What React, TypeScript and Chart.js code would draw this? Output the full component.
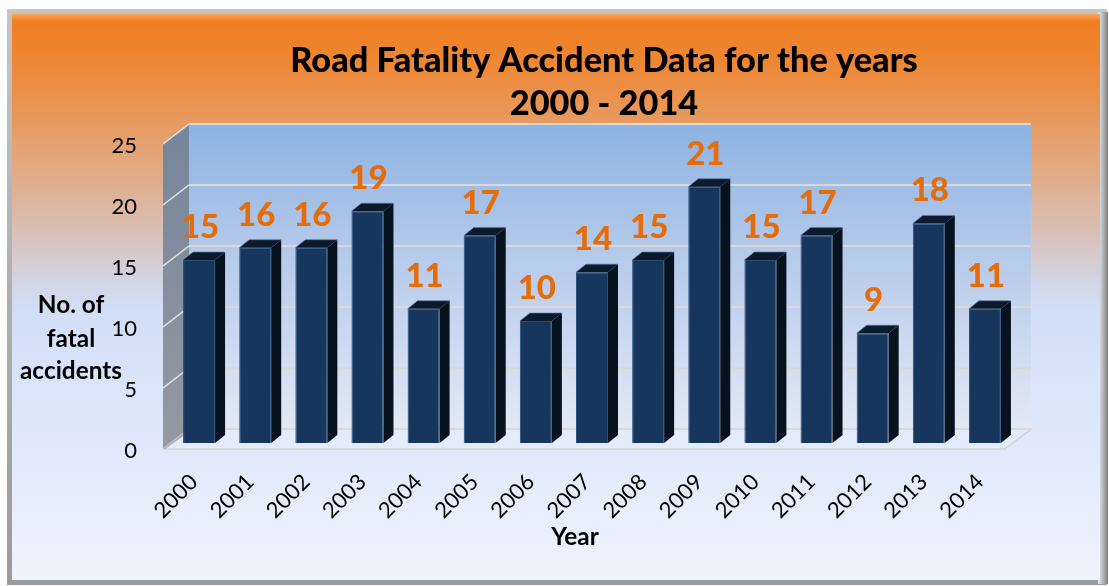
import React, { useEffect, useRef } from 'react';
import { Chart, registerables } from 'chart.js';

Chart.register(...registerables);

const years = ['2000', '2001', '2002', '2003', '2004', '2005', '2006', '2007', '2008', '2009', '2010', '2011', '2012', '2013', '2014'];
const fatalAccidents = [15, 16, 16, 19, 11, 17, 10, 14, 15, 21, 15, 17, 9, 18, 11];
const yTickValues = [0, 5, 10, 15, 20, 25];
const titleLines = ['Road Fatality Accident Data for the years', '2000 - 2014'];
const yTitleLines = ['No. of', 'fatal', 'accidents'];
const xTitle = 'Year';

const FONT = 'Lato, "Open Sans", "DejaVu Sans", sans-serif';
const FRONT = { dx: -8, dy: 6 };
const BACK = { dx: 18, dy: -14 };
const SIDE = { dx: 10, dy: -8 };

function fitFont(ctx: CanvasRenderingContext2D, text: string, width: number, weight: string) {
  ctx.font = `${weight} 100px ${FONT}`;
  const w = ctx.measureText(text).width;
  const size = (100 * width) / w;
  ctx.font = `${weight} ${size.toFixed(2)}px ${FONT}`;
}

const threeDPlugin = {
  id: 'threeD',
  beforeDraw(chart: any) {
    const ctx: CanvasRenderingContext2D = chart.ctx;
    ctx.save();
    ctx.fillStyle = '#ffffff';
    ctx.fillRect(0, 0, chart.width, chart.height);
    // card frame
    const fg = ctx.createLinearGradient(0, 9, 0, 585);
    fg.addColorStop(0, '#c4c4c4');
    fg.addColorStop(1, '#9a9a9a');
    ctx.fillStyle = fg;
    ctx.fillRect(7, 9, 1100, 576);
    const rg = ctx.createLinearGradient(1098, 0, 1108, 0);
    rg.addColorStop(0, '#e8eef8');
    rg.addColorStop(1, '#7f7f7f');
    ctx.fillStyle = rg;
    ctx.fillRect(1098, 12, 10, 572);
    // card background gradient
    const g = ctx.createLinearGradient(0, 14, 0, 580);
    g.addColorStop(0, '#F07C1E');
    g.addColorStop(0.08, '#EE8632');
    g.addColorStop(0.2, '#E79C64');
    g.addColorStop(0.3, '#E0AE8F');
    g.addColorStop(0.4, '#D8C3BD');
    g.addColorStop(0.47, '#D3D4E3');
    g.addColorStop(0.52, '#D2DEF6');
    g.addColorStop(0.75, '#DFE9FB');
    g.addColorStop(1, '#EEF3FD');
    ctx.fillStyle = g;
    ctx.fillRect(12, 14, 1088, 566);
    // top bevel highlight
    const bg = ctx.createLinearGradient(0, 14, 0, 22);
    bg.addColorStop(0, 'rgba(255,200,120,0.55)');
    bg.addColorStop(1, 'rgba(255,200,120,0)');
    ctx.fillStyle = bg;
    ctx.fillRect(12, 14, 1088, 8);
    ctx.restore();

    // titles
    ctx.save();
    ctx.fillStyle = '#000000';
    ctx.textAlign = 'center';
    ctx.textBaseline = 'alphabetic';
    fitFont(ctx, titleLines[0], 628, '900');
    ctx.fillText(titleLines[0], 604, 72);
    ctx.fillText(titleLines[1], 604, 115);
    fitFont(ctx, yTitleLines[2], 102, 'bold');
    const yb = [313, 347, 379];
    yTitleLines.forEach((t, i) => ctx.fillText(t, 71, yb[i]));
    ctx.fillText(xTitle, 575, 545);
    ctx.restore();
  },
  beforeDatasetsDraw(chart: any) {
    const ctx: CanvasRenderingContext2D = chart.ctx;
    const ys = chart.scales.y;
    const L = chart.chartArea.left;
    const R = chart.chartArea.right;
    const y0 = ys.getPixelForValue(0);
    const yT = ys.getPixelForValue(yTickValues[yTickValues.length - 1]);
    ctx.save();
    // back wall
    const wg = ctx.createLinearGradient(0, yT + BACK.dy, 0, y0 + BACK.dy);
    wg.addColorStop(0, '#8DB3E2');
    wg.addColorStop(0.4, '#B3C8EA');
    wg.addColorStop(1, '#E2E9F4');
    ctx.fillStyle = wg;
    ctx.fillRect(L + BACK.dx, yT + BACK.dy, R - L, y0 - yT);
    // left wall
    const lg = ctx.createLinearGradient(0, yT, 0, y0);
    lg.addColorStop(0, '#76869B');
    lg.addColorStop(1, '#9499A2');
    ctx.fillStyle = lg;
    ctx.beginPath();
    ctx.moveTo(L + FRONT.dx, yT + FRONT.dy);
    ctx.lineTo(L + BACK.dx, yT + BACK.dy);
    ctx.lineTo(L + BACK.dx, y0 + BACK.dy);
    ctx.lineTo(L + FRONT.dx, y0 + FRONT.dy);
    ctx.closePath();
    ctx.fill();
    // floor
    ctx.fillStyle = '#E3ECFA';
    ctx.beginPath();
    ctx.moveTo(L + FRONT.dx, y0 + FRONT.dy);
    ctx.lineTo(L + BACK.dx, y0 + BACK.dy);
    ctx.lineTo(R + BACK.dx, y0 + BACK.dy);
    ctx.lineTo(R + FRONT.dx, y0 + FRONT.dy);
    ctx.closePath();
    ctx.fill();
    ctx.strokeStyle = '#D0D3D8';
    ctx.lineWidth = 1.5;
    ctx.stroke();
    // left wall floor shade
    ctx.fillStyle = '#A9ADB3';
    ctx.beginPath();
    ctx.moveTo(L + FRONT.dx, y0 + FRONT.dy);
    ctx.lineTo(L + BACK.dx, y0 + BACK.dy);
    ctx.lineTo(L + BACK.dx, y0 + BACK.dy + 3);
    ctx.lineTo(L + FRONT.dx + 2, y0 + FRONT.dy);
    ctx.closePath();
    ctx.fill();
    // gridlines
    yTickValues.forEach((v) => {
      const y = ys.getPixelForValue(v);
      ctx.strokeStyle = '#D9D9D9';
      ctx.lineWidth = 2;
      ctx.beginPath();
      ctx.moveTo(L + BACK.dx, y + BACK.dy);
      ctx.lineTo(R + BACK.dx, y + BACK.dy);
      ctx.stroke();
      if (v > 0) {
        ctx.strokeStyle = '#E4E7EC';
        ctx.lineWidth = 1.5;
        ctx.beginPath();
        ctx.moveTo(L + FRONT.dx, y + FRONT.dy);
        ctx.lineTo(L + BACK.dx, y + BACK.dy);
        ctx.stroke();
      }
    });
    ctx.restore();
  },
  afterDatasetsDraw(chart: any) {
    const ctx: CanvasRenderingContext2D = chart.ctx;
    const meta = chart.getDatasetMeta(0);
    ctx.save();
    meta.data.forEach((bar: any, i: number) => {
      const { x, y, base, width } = bar.getProps(['x', 'y', 'base', 'width'], true);
      const l = x - width / 2;
      const r = x + width / 2;
      ctx.fillStyle = '#07121F';
      ctx.beginPath();
      ctx.moveTo(r, y);
      ctx.lineTo(r + SIDE.dx, y + SIDE.dy);
      ctx.lineTo(r + SIDE.dx, base + SIDE.dy);
      ctx.lineTo(r, base);
      ctx.closePath();
      ctx.fill();
      ctx.fillStyle = '#0B1A2C';
      ctx.beginPath();
      ctx.moveTo(l, y);
      ctx.lineTo(l + SIDE.dx, y + SIDE.dy);
      ctx.lineTo(r + SIDE.dx, y + SIDE.dy);
      ctx.lineTo(r, y);
      ctx.closePath();
      ctx.fill();
      ctx.strokeStyle = 'rgba(90,120,160,0.6)';
      ctx.lineWidth = 1;
      ctx.beginPath();
      ctx.moveTo(l, y);
      ctx.lineTo(l + SIDE.dx, y + SIDE.dy);
      ctx.lineTo(r + SIDE.dx, y + SIDE.dy);
      ctx.stroke();
      // value label
      ctx.fillStyle = '#E46C0A';
      ctx.font = `900 33px ${FONT}`;
      ctx.textAlign = 'center';
      ctx.textBaseline = 'alphabetic';
      ctx.fillText(String(fatalAccidents[i]), x + 1, y - 22);
    });
    ctx.restore();
  },
};

export default function App() {
  const ref = useRef<HTMLCanvasElement | null>(null);
  useEffect(() => {
    document.body.style.margin = '0';
    if (!ref.current) return;
    const chart = new Chart(ref.current, {
      type: 'bar',
      data: {
        labels: years,
        datasets: [
          {
            label: 'No. of fatal accidents',
            data: fatalAccidents,
            backgroundColor: '#17365D',
            borderColor: '#2C4D78',
            borderWidth: 1,
            barPercentage: 0.57,
            categoryPercentage: 1,
          },
        ],
      },
      options: {
        responsive: false,
        animation: false,
        devicePixelRatio: 1,
        layout: { padding: { left: 0, top: 138, right: 96, bottom: 0 } },
        plugins: {
          legend: { display: false },
          tooltip: { enabled: false },
          title: { display: false },
        },
        scales: {
          x: {
            grid: { display: false, drawTicks: false },
            border: { display: false },
            ticks: {
              color: '#000000',
              font: { family: FONT, size: 22 },
              maxRotation: 45,
              minRotation: 45,
              padding: 26,
              labelOffset: -5,
            },
            afterFit: (s: any) => {
              s.height = 143;
            },
          },
          y: {
            min: 0,
            max: 25,
            grid: { display: false, drawTicks: false },
            border: { display: false },
            ticks: {
              stepSize: 5,
              color: '#000000',
              font: { family: FONT, size: 22 },
              padding: 34,
              labelOffset: 8,
            },
            afterFit: (s: any) => {
              s.width = 171;
            },
          },
        },
      },
      plugins: [threeDPlugin],
    });
    return () => chart.destroy();
  }, []);
  return (
    <div style={{ width: 1109, height: 586 }}>
      <canvas ref={ref} width={1109} height={586} />
    </div>
  );
}
